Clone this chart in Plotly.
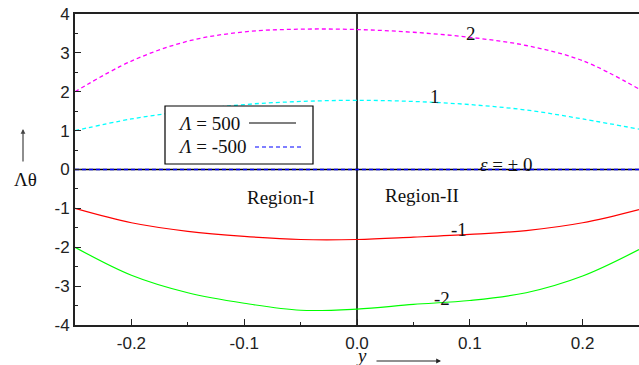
import plotly.graph_objects as go

# ---- data ----
y_pos = [-0.25, -0.2, -0.15, -0.1, -0.05, 0.0, 0.05, 0.1, 0.15, 0.2, 0.25]
eps_p2 = [2.0, 2.79, 3.30, 3.54, 3.61, 3.60, 3.53, 3.40, 3.19, 2.80, 2.07]
eps_p1 = [1.0, 1.30, 1.51, 1.67, 1.75, 1.78, 1.75, 1.67, 1.53, 1.30, 1.04]
eps_m1 = [-1.0, -1.37, -1.59, -1.72, -1.80, -1.80, -1.74, -1.67, -1.57, -1.37, -1.03]
eps_m2 = [-2.0, -2.72, -3.17, -3.44, -3.62, -3.59, -3.47, -3.37, -3.17, -2.74, -2.06]
eps_0_x = [-0.25, 0.25]
eps_0 = [0.0, 0.0]

x_tickvals = [-0.2, -0.1, 0.0, 0.1, 0.2]
x_ticktext = ["-0.2", "-0.1", "0.0", "0.1", "0.2"]
y_tickvals = [-4, -3, -2, -1, 0, 1, 2, 3, 4]
y_ticktext = ["-4", "-3", "-2", "-1", "0", "1", "2", "3", "4"]

curve_labels = [
    (0.101, 3.51, "2"),
    (0.069, 1.87, "1"),
    (0.132, 0.12, "<i>ε</i> = ± 0"),
    (-0.067, -0.73, "Region-I"),
    (0.058, -0.68, "Region-II"),
    (0.090, -1.55, "-1"),
    (0.075, -3.33, "-2"),
]

fig = go.Figure()
fig.add_trace(go.Scatter(x=y_pos, y=eps_p2, mode="lines", line=dict(color="#ff00ff", width=1.3, dash="4px,3px", shape="spline")))
fig.add_trace(go.Scatter(x=y_pos, y=eps_p1, mode="lines", line=dict(color="#00ffff", width=1.3, dash="4px,3px", shape="spline")))
fig.add_trace(go.Scatter(x=y_pos, y=eps_m1, mode="lines", line=dict(color="#ff0000", width=1.2, shape="spline")))
fig.add_trace(go.Scatter(x=y_pos, y=eps_m2, mode="lines", line=dict(color="#00ff00", width=1.2, shape="spline")))
fig.add_trace(go.Scatter(x=eps_0_x, y=eps_0, mode="lines", line=dict(color="#000000", width=1.5)))
fig.add_trace(go.Scatter(x=eps_0_x, y=eps_0, mode="lines", line=dict(color="#0000ff", width=1.5, dash="4px,3px")))

serif = "Liberation Serif, Times New Roman, serif"
for x, y, t in curve_labels:
    fig.add_annotation(x=x, y=y, text=t, showarrow=False, font=dict(family=serif, size=19, color="#111"))

PW, PH = 564, 311
def px(x):
    return (x - 75) / PW
def py(y):
    return (325 - y) / PH

# legend box (drawn manually: text left, line sample right)
fig.add_shape(type="rect", xref="paper", yref="paper", x0=px(165), x1=px(313),
              y0=py(164), y1=py(106), line=dict(color="#000", width=1.2), fillcolor="white")
fig.add_shape(type="line", xref="paper", yref="paper", x0=px(249), x1=px(296),
              y0=py(123), y1=py(123), line=dict(color="#000", width=1.2))
fig.add_shape(type="line", xref="paper", yref="paper", x0=px(255), x1=px(303),
              y0=py(147), y1=py(147), line=dict(color="#0000ff", width=1.2, dash="4px,3px"))
fig.add_annotation(xref="paper", yref="paper", x=px(176), y=py(123), xanchor="left", yanchor="middle",
                   text="<i>Λ</i> = 500", showarrow=False, font=dict(family=serif, size=19, color="#111"))
fig.add_annotation(xref="paper", yref="paper", x=px(176), y=py(147), xanchor="left", yanchor="middle",
                   text="<i>Λ</i> = -500", showarrow=False, font=dict(family=serif, size=19, color="#111"))

# axis titles with arrows
fig.add_annotation(xref="paper", yref="paper", x=px(361), y=py(355), text="<i>y</i>", showarrow=False,
                   font=dict(family=serif, size=19, color="#111"), xanchor="center", yanchor="middle", borderpad=0)
fig.add_annotation(xref="paper", yref="paper", x=px(441), y=py(361), ax=-66, ay=0,
                   text="", showarrow=True, arrowhead=2, arrowsize=0.8, arrowwidth=1.2, arrowcolor="#222")
fig.add_annotation(xref="paper", yref="paper", x=px(25), y=py(179), text="Λθ", showarrow=False,
                   font=dict(family=serif, size=19, color="#111"), xanchor="center", yanchor="middle")
fig.add_annotation(xref="paper", yref="paper", x=px(23), y=py(129), ax=0, ay=34,
                   text="", showarrow=True, arrowhead=2, arrowsize=0.8, arrowwidth=1.2, arrowcolor="#444")

tickfont = dict(family="Liberation Sans, Arial, sans-serif", size=17, color="#222")
fig.update_layout(
    width=639, height=365,
    margin=dict(l=75, r=0, t=14, b=40),
    paper_bgcolor="white", plot_bgcolor="white",
    showlegend=False,
    xaxis=dict(range=[-0.25, 0.25], tickvals=x_tickvals, ticktext=x_ticktext, ticks="inside", ticklen=6,
               tickwidth=1.3, tickcolor="#222", showgrid=False, zeroline=True, zerolinecolor="#333", zerolinewidth=2,
               showline=True, linecolor="#222", linewidth=2, mirror=True, tickfont=tickfont, ticklabelstandoff=2,
               minor=dict(ticks="inside", ticklen=3, dtick=0.05, tick0=0, tickcolor="#222", showgrid=False)),
    yaxis=dict(range=[-4, 4], tickvals=y_tickvals, ticktext=y_ticktext, ticks="inside", ticklen=6,
               tickwidth=1.3, tickcolor="#222", showgrid=False, zeroline=False,
               showline=True, linecolor="#222", linewidth=2, tickfont=tickfont,
               minor=dict(ticks="inside", ticklen=3, dtick=0.5, tick0=0, tickcolor="#222", showgrid=False)),
)
fig.write_html("out.html", config={"displayModeBar": False},
               post_script="document.body.style.margin='0';document.body.style.overflow='hidden';")
